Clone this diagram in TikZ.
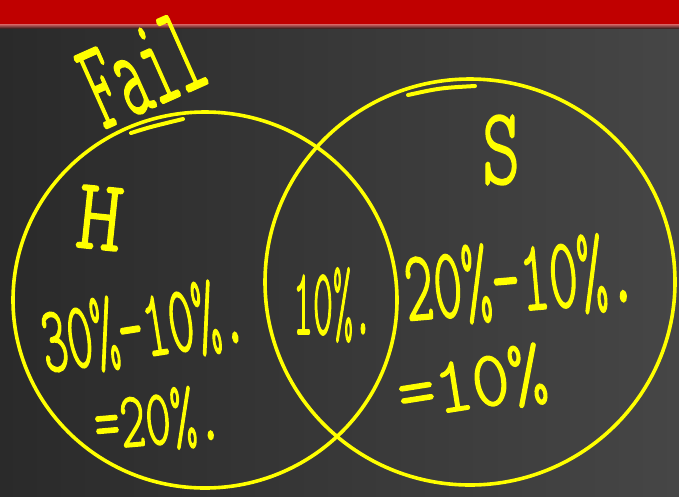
\documentclass[tikz,border=0pt]{standalone}
\usepackage{fontspec}
\usetikzlibrary{shapes.geometric}
\newfontfamily\hand{lmmonolt10-regular.otf}[FakeBold=2]
\definecolor{pen}{HTML}{FFFF00}
\definecolor{barred}{HTML}{C00000}
\definecolor{bgleft}{HTML}{2A2A2A}
\definecolor{bgright}{HTML}{464646}
\tikzset{
  setring/.style={ellipse, draw=pen, line width=3.6pt, inner sep=0pt},
  ink/.style={text=pen, inner sep=0pt, font=\hand\fontsize{40}{40}\selectfont},
  penline/.style={draw=pen, line width=4pt, line cap=round}
}
\begin{document}
\begin{tikzpicture}[x=1pt,y=1pt]
\useasboundingbox (0,0) rectangle (679,-496);
% background
\shade[left color=bgleft, right color=bgright] (0,0) rectangle (679,-496);
\fill[barred] (0,0) rectangle (679,-25);
\shade[top color=barred!60!white, bottom color=bgleft!80!barred] (0,-24) rectangle (679,-28);
% sets
\node[setring, minimum width=384pt, minimum height=376pt] (Hset) at (205,-300) {};
\node[setring, minimum width=410pt, minimum height=406pt] (Sset) at (470,-282) {};
% labels
\node[ink, rotate=24] (fail) at (142,-70) {\resizebox{118pt}{78pt}{Fail}};
\node[ink, rotate=-6] (hlab) at (100,-218) {\resizebox{45pt}{62pt}{H}};
\node[ink] (slab) at (501,-150) {\resizebox{38pt}{68pt}{S}};
\node[ink, rotate=9] (hcalc) at (143,-328) {\resizebox{205pt}{66pt}{30\%-10\%.}};
\node[ink, rotate=5] (hres) at (158,-420) {\resizebox{128pt}{55pt}{=20\%.}};
\node[ink] (mid) at (333,-305) {\resizebox{80pt}{66pt}{10\%.}};
\node[ink, rotate=5] (scalc) at (520,-280) {\resizebox{232pt}{70pt}{20\%-10\%.}};
\node[ink, rotate=9] (sres) at (472,-384) {\resizebox{150pt}{55pt}{=10\%}};
% extra pen strokes
\coordinate (u1) at (131,-133);
\coordinate (u2) at (183,-119);
\draw[penline] (u1) .. controls (150,-127) .. (u2);
\coordinate (v1) at (408,-95);
\coordinate (v2) at (475,-86);
\draw[penline] (v1) .. controls (440,-88) .. (v2);
\end{tikzpicture}
\end{document}
